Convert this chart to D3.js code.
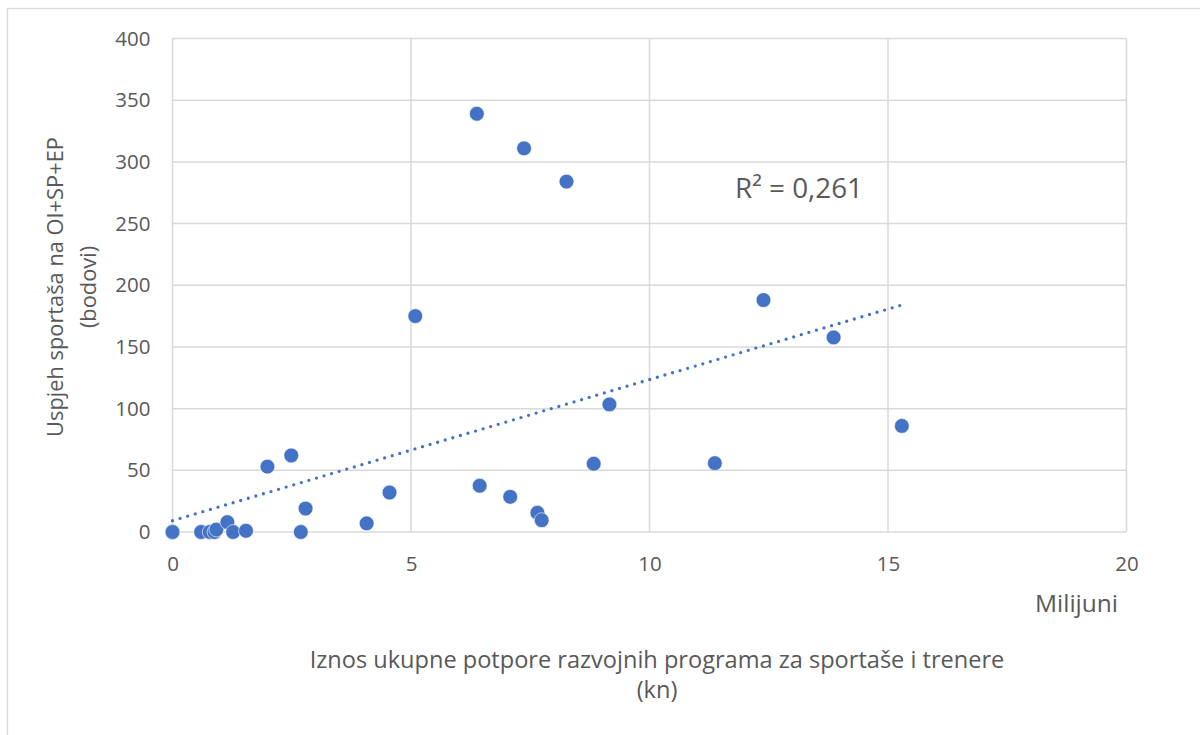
<!DOCTYPE html>
<html>
<head>
<meta charset="utf-8">
<script src="https://cdn.jsdelivr.net/npm/d3@7"></script>
<style>
  html, body { margin: 0; padding: 0; background: #fff; }
  svg { display: block; }
  text { font-family: "Open Sans", Lato, sans-serif; fill: #595959; }
</style>
</head>
<body>
<svg id="chart" width="1200" height="735"></svg>
<script>
// ---- data (x in millions kn, y in points) ----
// several sports sit exactly at (0, 0) and overlap into one visible marker
const supportMillions = [0, 0, 0, 0, 0.6, 0.78, 0.88, 0.92, 1.15, 1.27, 1.54, 1.99, 2.49, 2.69, 2.79, 4.07, 4.55, 5.09, 6.38, 6.44, 7.08, 7.37, 7.65, 7.74, 8.26, 8.83, 9.16, 11.37, 12.39, 13.86, 15.29];
const successPoints  = [0, 0, 0, 0, 0, 0, 0, 2, 8, 0, 1, 53, 62, 0, 19, 7, 32, 175, 339, 37.5, 28.5, 311, 15.6, 9.6, 284, 55.3, 103.4, 55.8, 188, 157.7, 86];
const xTicks = [0, 5, 10, 15, 20];
const yTicks = [0, 50, 100, 150, 200, 250, 300, 350, 400];
const yTitleLines = ["Uspjeh sportaša na OI+SP+EP", "(bodovi)"];
const xTitleLines = ["Iznos ukupne potpore razvojnih programa za sportaše i trenere", "(kn)"];
const xUnitLabel = "Milijuni";
const r2Label = "R² = 0,261";

const points = supportMillions.map((x, i) => ({ x, y: successPoints[i] }));

const svg = d3.select("#chart");
const plot = { left: 172.5, right: 1126.5, top: 38.5, bottom: 532 };

// size a text so its rendered width matches the reference width
function fitSize(text, target, base) {
  const t = svg.append("text").style("font-size", base + "px").text(text);
  const w = t.node().getComputedTextLength();
  t.remove();
  return base * target / w;
}

// chart border
svg.append("rect")
  .attr("x", 7.5).attr("y", 8.5).attr("width", 1200).attr("height", 740)
  .attr("fill", "none").attr("stroke", "#d9d9d9").attr("stroke-width", 1.3);

const x = d3.scaleLinear().domain([0, 20]).range([plot.left, plot.right]);
const y = d3.scaleLinear().domain([0, 400]).range([plot.bottom, plot.top]);

// gridlines
const grid = svg.append("g");
grid.selectAll("line.h").data(yTicks).join("line")
  .attr("x1", plot.left).attr("x2", plot.right)
  .attr("y1", d => y(d)).attr("y2", d => y(d))
  .attr("stroke", "#d9d9d9").attr("stroke-width", 1.5);
grid.selectAll("line.v").data(xTicks).join("line")
  .attr("y1", plot.top).attr("y2", plot.bottom)
  .attr("x1", d => x(d)).attr("x2", d => x(d))
  .attr("stroke", "#d9d9d9").attr("stroke-width", 1.5);

// axes (labels only)
const tickFont = "\"Open Sans\", sans-serif";
const yAxis = d3.axisLeft(y).tickValues(yTicks).tickSize(0).tickPadding(22);
const gy = svg.append("g").attr("transform", `translate(${plot.left},0)`).call(yAxis);
gy.select(".domain").remove();
gy.selectAll("text").style("font-size", "20.5px").style("fill", "#595959").style("font-family", tickFont);

const xAxis = d3.axisBottom(x).tickValues(xTicks).tickSize(0).tickPadding(24);
const gx = svg.append("g").attr("transform", `translate(0,${plot.bottom})`).call(xAxis);
gx.select(".domain").remove();
gx.selectAll("text").style("font-size", "20.5px").style("fill", "#595959").style("font-family", tickFont);

// linear regression trendline
const mx = d3.mean(points, d => d.x), my = d3.mean(points, d => d.y);
const sxy = d3.sum(points, d => (d.x - mx) * (d.y - my));
const sxx = d3.sum(points, d => (d.x - mx) ** 2);
const slope = sxy / sxx, intercept = my - slope * mx;
const [xmin, xmax] = d3.extent(points, d => d.x);
svg.append("line")
  .attr("x1", x(xmin)).attr("y1", y(intercept + slope * xmin))
  .attr("x2", x(xmax)).attr("y2", y(intercept + slope * xmax))
  .attr("stroke", "#4472C4").attr("stroke-width", 3.3)
  .attr("stroke-linecap", "round").attr("stroke-dasharray", "0 7.9");

// points
svg.append("g").selectAll("circle").data(points).join("circle")
  .attr("cx", d => x(d.x)).attr("cy", d => y(d.y)).attr("r", 7.4)
  .attr("fill", "#4472C4").attr("stroke", "#fff").attr("stroke-width", 0.6);

// R² label
svg.append("text").attr("x", 735).attr("y", 198)
  .style("font-size", fitSize(r2Label, 128, 28) + "px").text(r2Label);

// unit label
svg.append("text").attr("x", 1118).attr("y", 612).attr("text-anchor", "end")
  .style("font-size", fitSize(xUnitLabel, 83, 21) + "px").text(xUnitLabel);

// x title
const xtSize = fitSize(xTitleLines[0], 695, 21);
svg.append("g").selectAll("text").data(xTitleLines).join("text")
  .attr("x", 657).attr("y", (d, i) => 668 + i * 30)
  .attr("text-anchor", "middle").style("font-size", xtSize + "px").text(d => d);

// y title
const ytSize = fitSize(yTitleLines[0], 300, 21);
svg.append("g").attr("transform", "translate(0,287) rotate(-90)")
  .selectAll("text").data(yTitleLines).join("text")
  .attr("x", 0).attr("y", (d, i) => 63 + i * 33)
  .attr("text-anchor", "middle").style("font-size", ytSize + "px").text(d => d);
</script>
</body>
</html>
